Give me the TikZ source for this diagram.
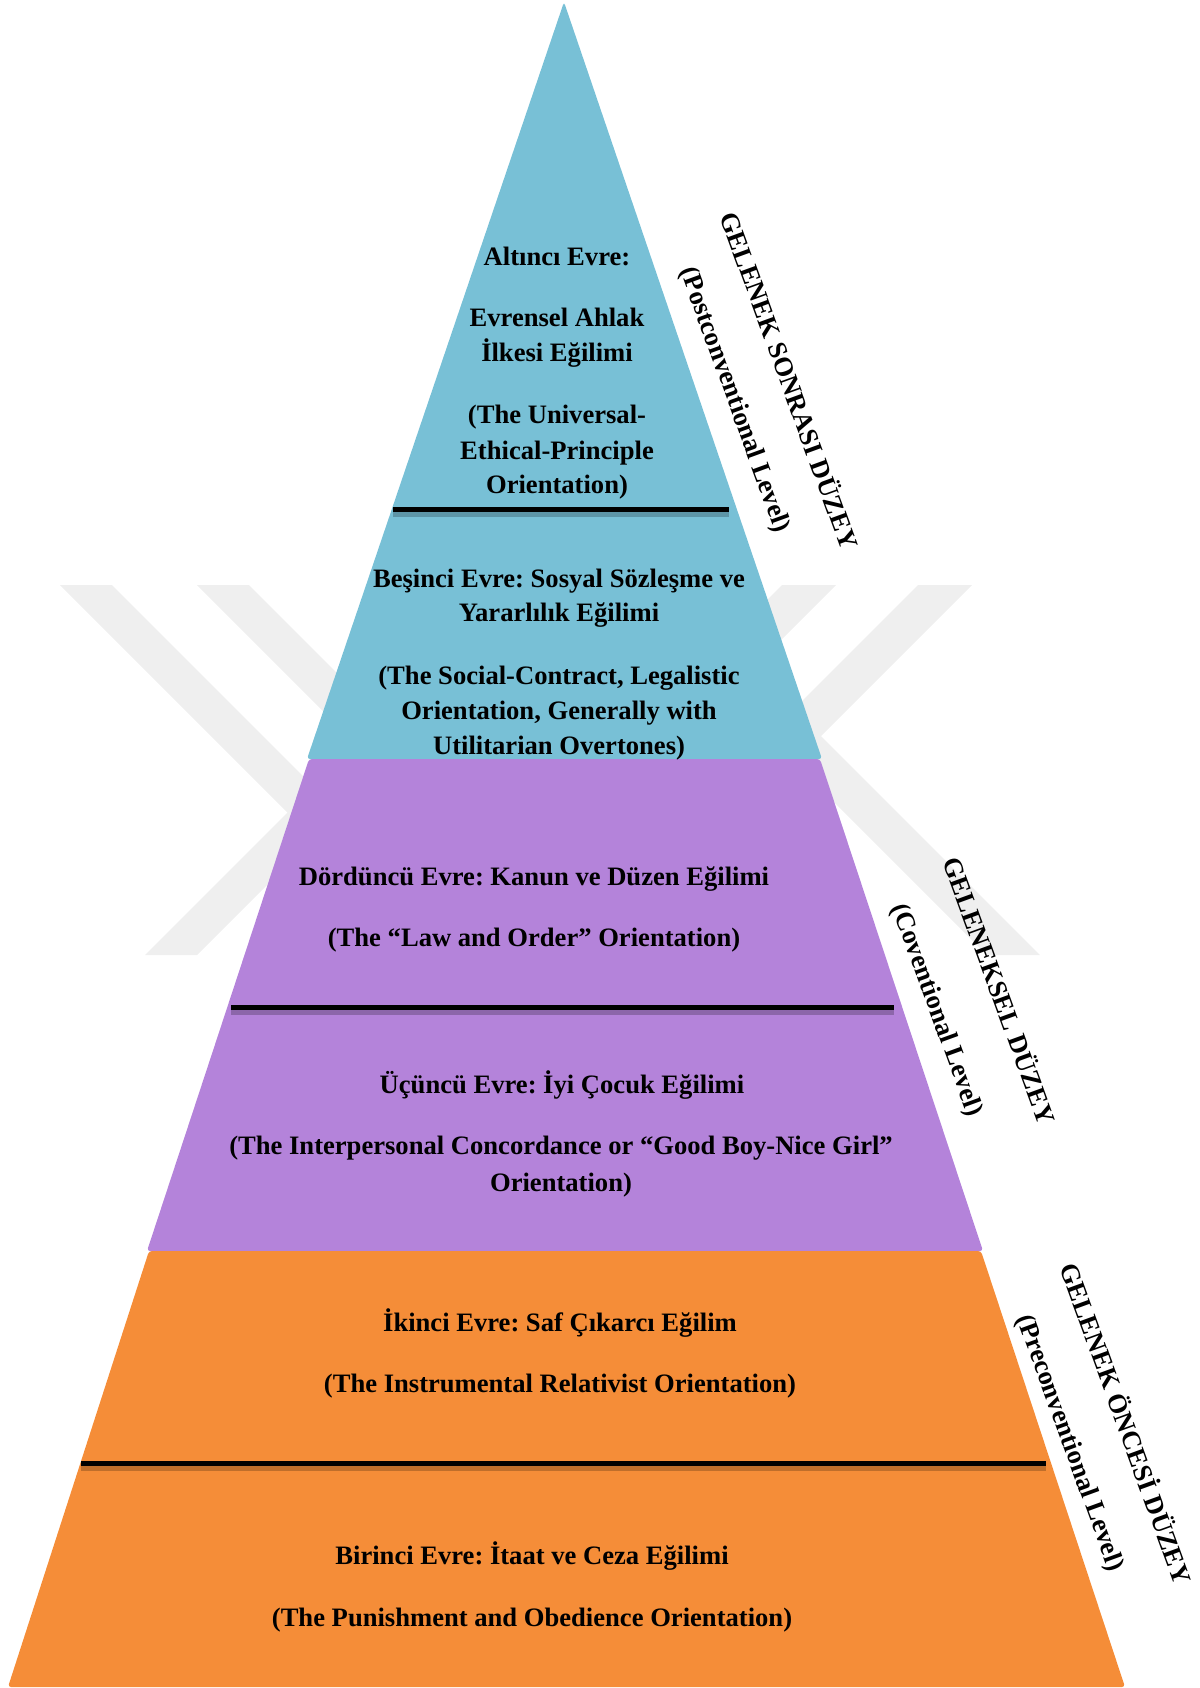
\documentclass[tikz,border=0pt]{standalone}
\usepackage{fontspec}
\setmainfont{Liberation Serif}
\usepackage{tikz}
\usetikzlibrary{positioning}
\frenchspacing
\definecolor{stageblue}{RGB}{120,192,214}
\definecolor{stagepurple}{RGB}{180,131,218}
\definecolor{stageorange}{RGB}{245,141,56}
\definecolor{markgray}{RGB}{239,239,239}
\tikzstyle{stage} = [anchor=base, inner sep=0pt, font=\fontsize{13.3}{17.5}\selectfont\bfseries]
\tikzstyle{level} = [rotate=-70, inner sep=0pt, font=\fontsize{13.3}{17.5}\selectfont\bfseries]
\tikzstyle{band} = [rounded corners=1.5pt]
\tikzstyle{divider} = [line width=2.5pt, black]
\tikzstyle{dividershadow} = [line width=4pt, black, opacity=0.22]
\tikzstyle{watermark} = [fill=markgray]

\begin{document}
\begin{tikzpicture}[x=0.5pt, y=-0.5pt]
    \useasboundingbox (0,0) rectangle (1200,1688);

    % Watermark
    \fill[watermark] (60,585) -- (112,585) -- (339.5,812.5) -- (197,955) -- (145,955) -- (287.5,812.5) -- cycle;
    \fill[watermark] (197,585) -- (249,585) -- (460,796) -- (408,796) -- cycle;
    \fill[watermark] (918,585) -- (972,585) -- (821,736) -- (1040,955) -- (987,955) -- (767.5,735.5) -- cycle;
    \fill[watermark] (782,585) -- (836,585) -- (700,721) -- (646,721) -- cycle;

    % Pyramid bands
    \fill[band, stageblue] (564,2) -- (822,759) -- (307,759) -- cycle;
    \fill[band, stagepurple] (309,759) -- (820,759) -- (983,1251) -- (147,1251) -- cycle;
    \fill[band, stageorange] (149,1251) -- (981,1251) -- (1125,1687) -- (8,1687) -- cycle;

    % Dividers
    \draw[dividershadow] (393,513) -- (729,513);
    \draw[divider] (393,509) -- (729,509);
    \draw[dividershadow] (231,1011) -- (894,1011);
    \draw[divider] (231,1007) -- (894,1007);
    \draw[dividershadow] (81,1467) -- (1046,1467);
    \draw[divider] (81,1463) -- (1046,1463);

    % Stage 6
    \node[stage] (s6a) at (557,265) {Altıncı Evre:};
    \node[stage] (s6b) at (557,326) {Evrensel Ahlak};
    \node[stage] (s6c) at (557,361) {İlkesi Eğilimi};
    \node[stage] (s6d) at (557,423) {(The Universal-};
    \node[stage] (s6e) at (557,459) {Ethical-Principle};
    \node[stage] (s6f) at (557,493) {Orientation)};

    % Stage 5
    \node[stage] (s5a) at (559,587) {Beşinci Evre: Sosyal Sözleşme ve};
    \node[stage] (s5b) at (559,621) {Yararlılık Eğilimi};
    \node[stage] (s5c) at (559,684) {(The Social-Contract, Legalistic};
    \node[stage] (s5d) at (559,719) {Orientation, Generally with};
    \node[stage] (s5e) at (559,754) {Utilitarian Overtones)};

    % Stage 4
    \node[stage] (s4a) at (534,885) {Dördüncü Evre: Kanun ve Düzen Eğilimi};
    \node[stage] (s4b) at (534,946) {(The “Law and Order” Orientation)};

    % Stage 3
    \node[stage] (s3a) at (562,1093) {Üçüncü Evre: İyi Çocuk Eğilimi};
    \node[stage] (s3b) at (561,1154) {(The Interpersonal Concordance or “Good Boy-Nice Girl”};
    \node[stage] (s3c) at (561,1191) {Orientation)};

    % Stage 2
    \node[stage] (s2a) at (560,1331) {İkinci Evre: Saf Çıkarcı Eğilim};
    \node[stage] (s2b) at (560,1392) {(The Instrumental Relativist Orientation)};

    % Stage 1
    \node[stage] (s1a) at (532,1564) {Birinci Evre: İtaat ve Ceza Eğilimi};
    \node[stage] (s1b) at (532,1626) {(The Punishment and Obedience Orientation)};

    % Levels
    \node[level] (post) at (791,380) {GELENEK SONRASI DÜZEY};
    \node[level] (postsub) at (734,400) {(Postconventional Level)};
    \node[level] (conv) at (1001,990) {GELENEKSEL DÜZEY};
    \node[level] (convsub) at (936,1010) {(Coventional Level)};
    \node[level] (pre) at (1128,1423) {GELENEK ÖNCESİ DÜZEY};
    \node[level] (presub) at (1069,1443) {(Preconventional Level)};

\end{tikzpicture}
\end{document}
